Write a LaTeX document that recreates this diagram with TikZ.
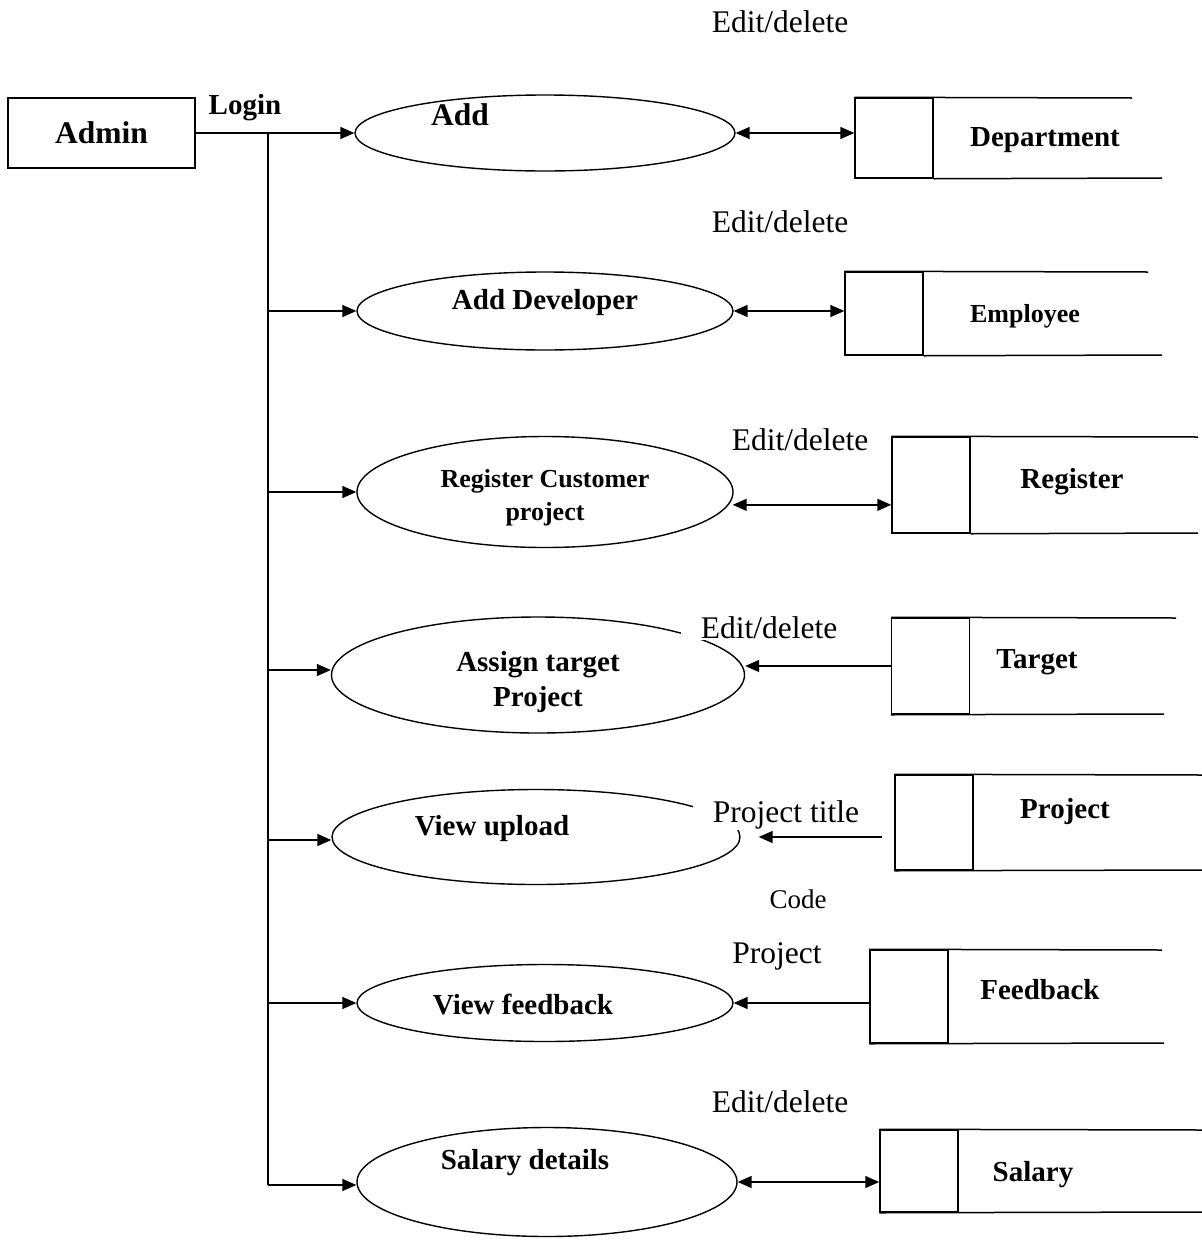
\documentclass[tikz,border=0pt]{standalone}
\usepackage{fontspec}
\setmainfont{Liberation Serif}
\usetikzlibrary{shapes.geometric,arrows.meta}

\begin{document}
\begin{tikzpicture}[x=1pt,y=-1pt,line width=1.5pt,
    proc/.style={draw,ellipse,inner sep=0pt,line width=1.4pt},
    ent/.style={draw,rectangle,inner sep=0pt,minimum width=187pt,minimum height=70pt},
    store/.style={draw,rectangle,inner sep=0pt,minimum width=78pt},
    flow/.style={-{Triangle[length=14pt,width=12pt]}},
    both/.style={{Triangle[length=14pt,width=12pt]}-{Triangle[length=14pt,width=12pt]}},
    lbl/.style={font=\fontsize{31.5}{34}\selectfont,inner sep=1pt},
    cut/.style={lbl,fill=white,inner xsep=20pt},
    bname/.style={font=\fontsize{29}{32}\selectfont\bfseries,inner sep=0pt},
    sname/.style={font=\fontsize{26}{33}\selectfont\bfseries,inner sep=0pt,align=center}]
    \useasboundingbox (0,0) rectangle (1202,1240);
    % external entity
    \node [ent,font=\fontsize{31.5}{34}\selectfont\bfseries] (admin) at (101.5,133) {Admin};
    \node [bname] (login) at (245,108) {Login};
    % processes
    \node [proc,minimum width=380pt,minimum height=76pt] (add) at (545,133) {};
    \node [font=\fontsize{31.5}{34}\selectfont\bfseries] (addtxt) at (460,115) {Add};
    \node [proc,minimum width=376pt,minimum height=78pt] (dev) at (545,311) {};
    \node [bname] (devtxt) at (545,303) {Add Developer};
    \node [proc,minimum width=376pt,minimum height=111pt] (reg) at (545,492) {};
    \node [sname] (regtxt) at (545,498) {Register Customer\\project};
    \node [proc,minimum width=413pt,minimum height=116pt] (assign) at (538,675) {};
    \node [bname,align=center,font=\fontsize{29}{35}\selectfont\bfseries] (assigntxt) at (538,682) {Assign target\\Project};
    \node [proc,minimum width=408pt,minimum height=95pt] (view) at (536,837) {};
    \node [bname] (viewtxt) at (492,829) {View upload};
    \node [proc,minimum width=376pt,minimum height=77pt] (feed) at (545,1003) {};
    \node [bname] (feedtxt) at (523,1004) {View feedback};
    \node [proc,minimum width=380pt,minimum height=109pt] (sal) at (547,1182) {};
    \node [bname] (saltxt) at (525,1163) {Salary details};
    % data stores
    \node [store,minimum height=80pt] (dept) at (894,138) {};
    \draw (dept.north west) -- (1132,98) (dept.south east) -- (1162,178);
    \node [bname] (depttxt) at (1045,140) {Department};
    \node [store,minimum height=83pt] (emp) at (884,313.5) {};
    \draw (emp.north west) -- (1148,272) (emp.south east) -- (1162,355);
    \node [bname,font=\fontsize{26}{30}\selectfont\bfseries] (emptxt) at (1025,316) {Employee};
    \node [store,minimum height=96pt] (register) at (931,485) {};
    \draw (register.north west) -- (1198,437) (register.south east) -- (1198,533);
    \node [bname] (registertxt) at (1072,482) {Register};
    \node [store,minimum height=96pt] (target) at (930.5,666) {};
    \draw (target.north west) -- (1176,618) (target.south west) -- (1164,714);
    \node [bname] (targettxt) at (1037,662) {Target};
    \node [store,minimum height=95pt] (project) at (934,822.5) {};
    \draw (project.north west) -- (1202,775) (project.south west) -- (1202,870);
    \node [bname] (projecttxt) at (1065,812) {Project};
    \node [store,minimum height=93pt] (feedback) at (909,996.5) {};
    \draw (feedback.north west) -- (1162,950) (feedback.south west) -- (1164,1043);
    \node [bname] (feedbacktxt) at (1040,990) {Feedback};
    \node [store,minimum height=82pt] (salary) at (919,1171) {};
    \draw (salary.north west) -- (1202,1130) (salary.south west) -- (1202,1212);
    \node [bname] (salarytxt) at (1033,1175) {Salary};
    % trunk from admin
    \coordinate (t1) at (268,133);
    \coordinate (t2) at (268,311);
    \coordinate (t3) at (268,492);
    \coordinate (t4) at (268,670);
    \coordinate (t5) at (268,840);
    \coordinate (t6) at (268,1003);
    \coordinate (t7) at (268,1185);
    \draw (t1) -- (t7);
    \draw [flow] (admin.east) -- (add.west);
    \draw [flow] (t2) -- (t2 -| dev.west);
    \draw [flow] (t3) -- (t3 -| reg.west);
    \draw [flow] (t4) -- (t4 -| assign.west);
    \draw [flow] (t5) -- (t5 -| view.west);
    \draw [flow] (t6) -- (t6 -| feed.west);
    \draw [flow] (t7) -- (t7 -| sal.west);
    % flows to stores
    \draw [both] (add.east) -- (add.east -| dept.west);
    \draw [both] (dev.east) -- (dev.east -| emp.west);
    \draw [both,shorten <=4pt] (reg.-4) -- (reg.-4 -| register.west);
    \draw [flow] (target.west) -- (target.west -| assign.east);
    \draw [flow,shorten <=12pt,shorten >=18pt] (project.west |- view.east) -- (view.east);
    \draw [flow] (feedback.west |- feed.east) -- (feed.east);
    \draw [both] (sal.east) -- (sal.east -| salary.west);
    % flow labels
    \node [lbl] (ed1) at (780,22) {Edit/delete};
    \node [lbl] (ed2) at (780,222) {Edit/delete};
    \node [lbl] (ed3) at (800,440) {Edit/delete};
    \node [cut] (ed4) at (769,628) {Edit/delete};
    \node [cut] (ptitle) at (786,815) {Project title};
    \node [lbl,font=\fontsize{27}{30}\selectfont] (code) at (798,899) {Code};
    \node [lbl] (pfeed) at (777,956) {Project};
    \node [lbl] (ed5) at (780,1102) {Edit/delete};
\end{tikzpicture}
\end{document}
